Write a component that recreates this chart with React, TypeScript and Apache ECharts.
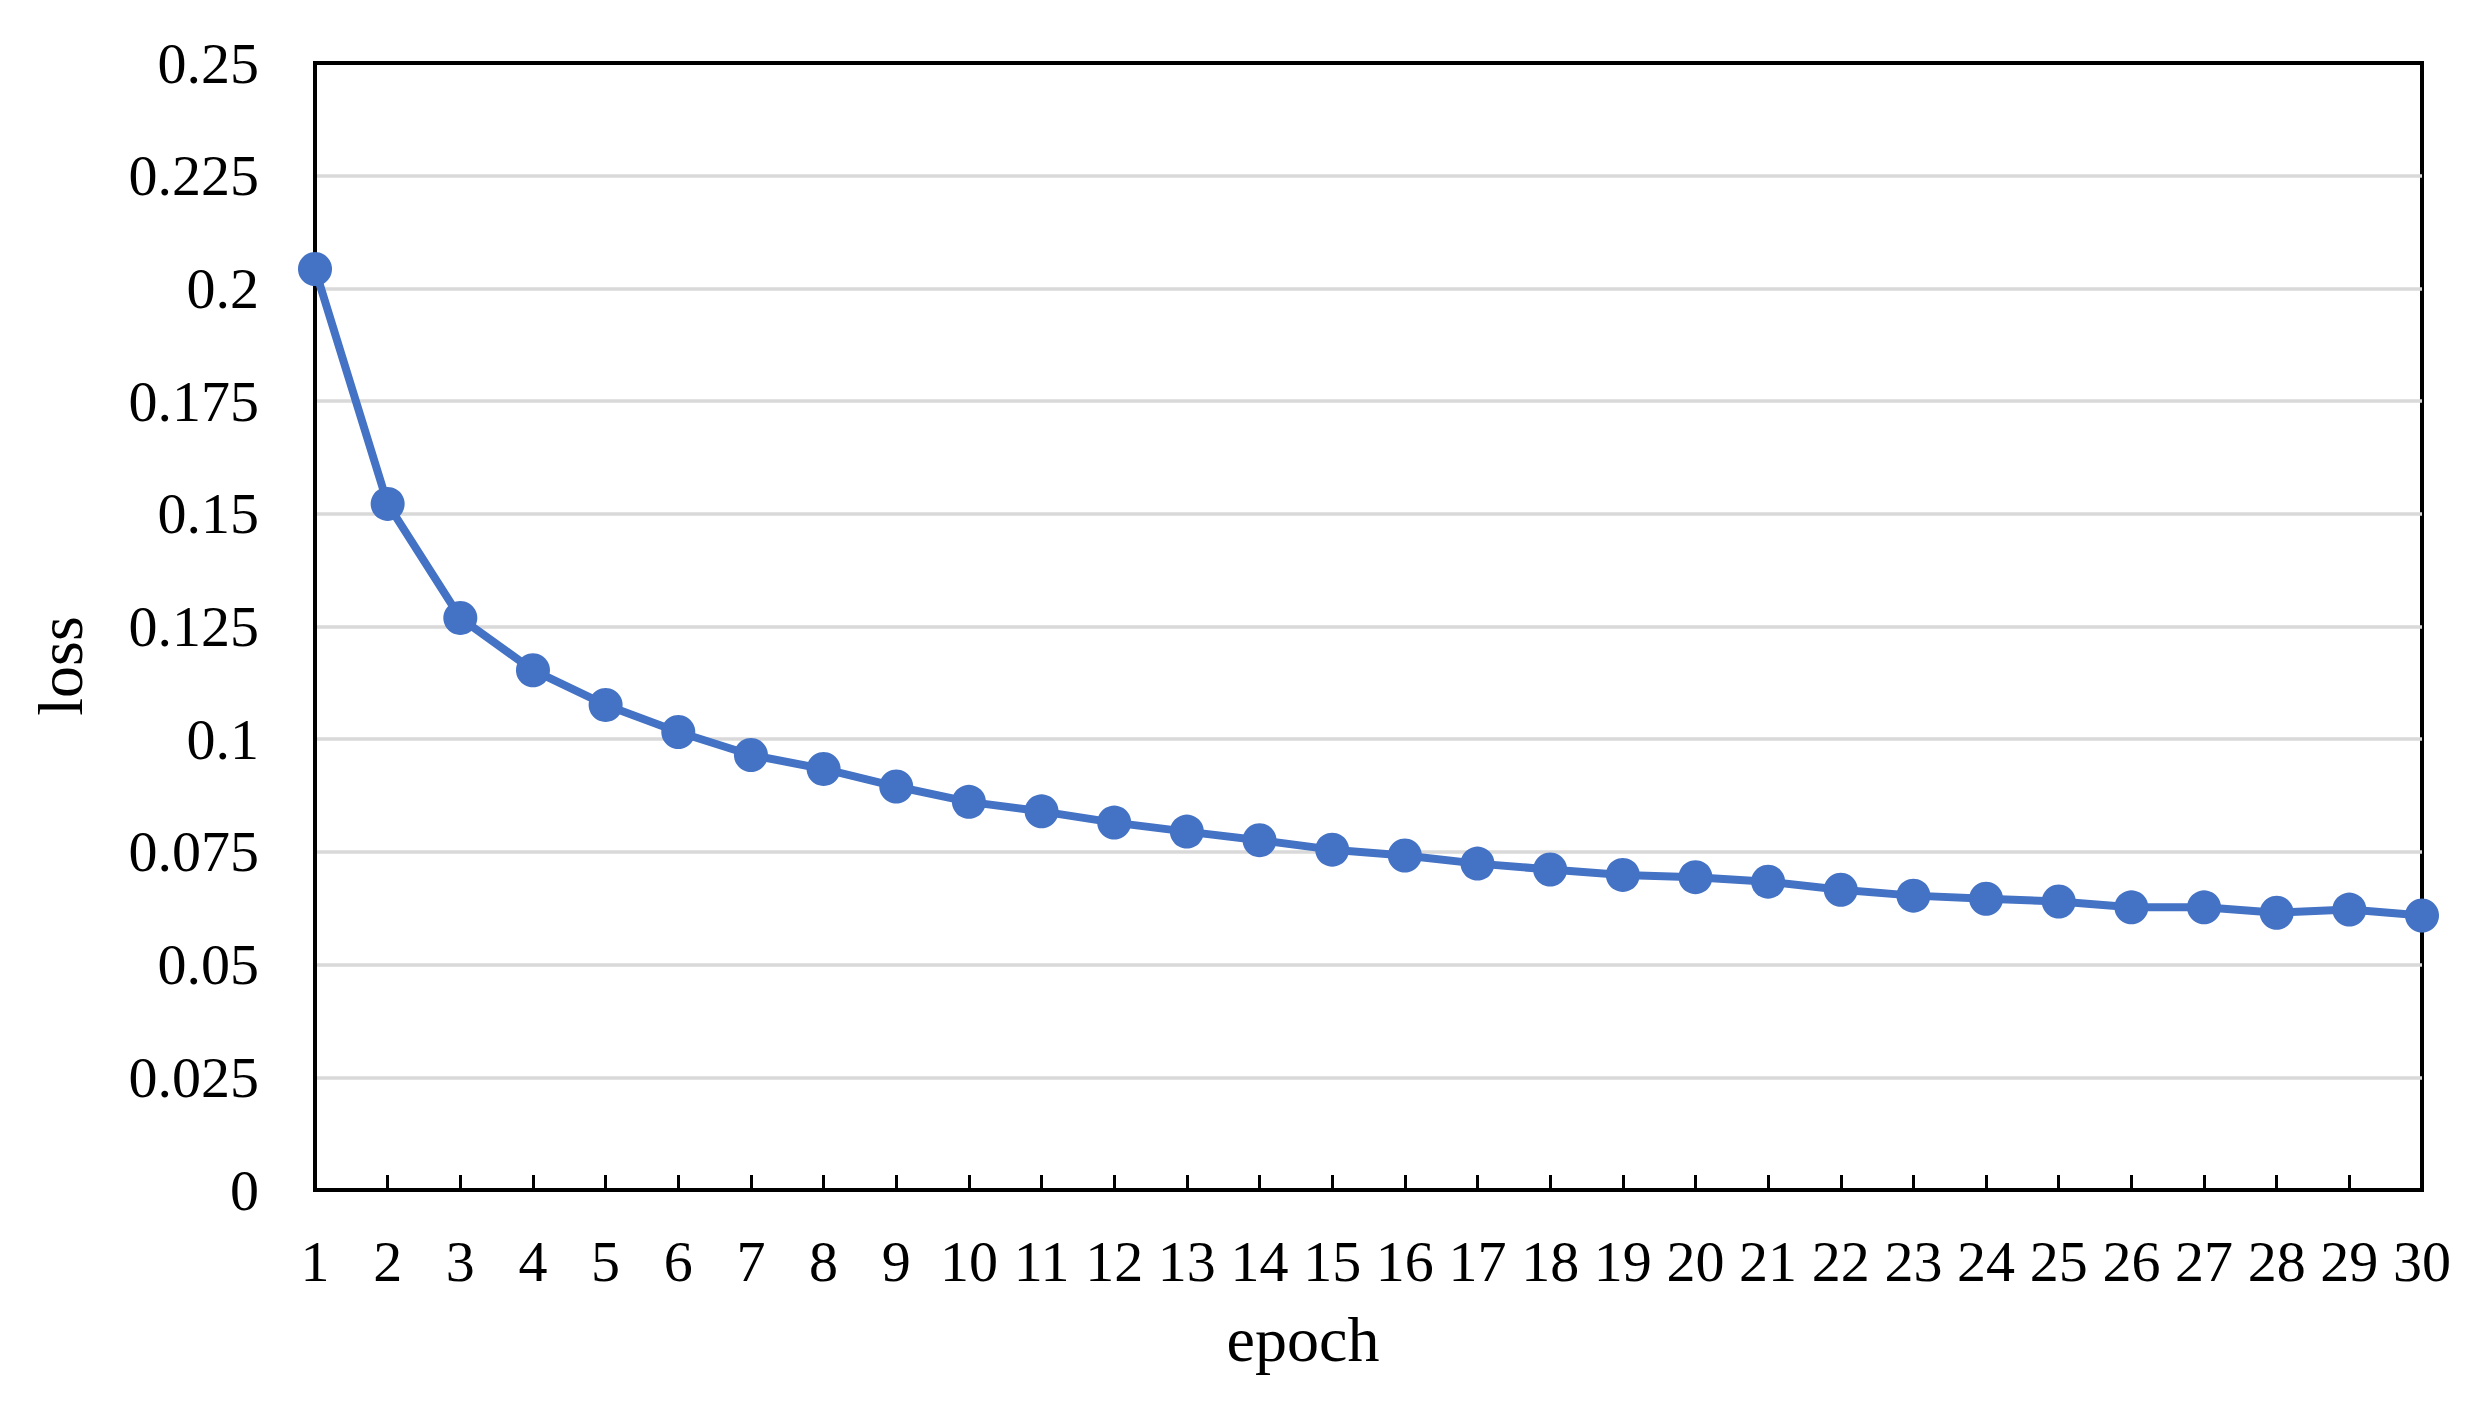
import React, { useEffect, useRef } from "react";
import * as echarts from "echarts";

const epochs: string[] = Array.from({ length: 30 }, (_, i) => String(i + 1));
const lossValues: number[] = [
  0.2043, 0.1522, 0.1269, 0.1153, 0.1076, 0.1016, 0.0965, 0.0934, 0.0895, 0.0861,
  0.084, 0.0815, 0.0795, 0.0776, 0.0755, 0.0742, 0.0724, 0.0711, 0.0699, 0.0694,
  0.0684, 0.0666, 0.0653, 0.0646, 0.064, 0.0627, 0.0627, 0.0615, 0.0622, 0.0609,
];
const yMin = 0;
const yMax = 0.25;
const yStep = 0.025;
const xTitle = "epoch";
const yTitle = "loss";

export default function App() {
  const ref = useRef<HTMLDivElement>(null);
  useEffect(() => {
    document.body.style.margin = "0";
    if (!ref.current) return;
    const chart = echarts.init(ref.current, null, { renderer: "svg" });
    const font = "'Liberation Serif', 'Times New Roman', serif";
    chart.setOption({
      animation: false,
      backgroundColor: "#ffffff",
      grid: {
        left: 315,
        right: 63,
        top: 63,
        bottom: 212,
        show: true,
        borderColor: "#000000",
        borderWidth: 4,
        backgroundColor: "transparent",
      },
      xAxis: [
        {
          type: "category",
          data: epochs,
          boundaryGap: false,
          axisLine: { show: true, lineStyle: { color: "#000000", width: 4 } },
          axisTick: {
            show: true,
            inside: true,
            length: 15,
            lineStyle: { color: "#000000", width: 3 },
          },
          axisLabel: {
            interval: 0,
            color: "#000000",
            fontFamily: font,
            fontSize: 58,
            margin: 42,
          },
          splitLine: { show: false },
          z: 10,
        },
        {
          type: "category",
          data: epochs,
          position: "top",
          boundaryGap: false,
          axisLine: { show: true, lineStyle: { color: "#000000", width: 4 } },
          axisTick: { show: false },
          axisLabel: { show: false },
          splitLine: { show: false },
          z: 10,
        },
      ],
      yAxis: {
        type: "value",
        min: yMin,
        max: yMax,
        interval: yStep,
        axisLine: { show: true, lineStyle: { color: "#000000", width: 4 } },
        axisTick: { show: false },
        axisLabel: {
          color: "#000000",
          fontFamily: font,
          fontSize: 58,
          margin: 56,
          formatter: (v: number) => String(parseFloat(v.toFixed(3))),
        },
        splitLine: {
          show: true,
          showMinLine: false,
          showMaxLine: false,
          lineStyle: { color: "#d9d9d9", width: 3.5 },
        },
      },
      graphic: [
        {
          type: "text",
          x: 60,
          y: 666,
          rotation: Math.PI / 2,
          style: {
            text: yTitle,
            fontFamily: font,
            fontSize: 64,
            fill: "#000000",
            align: "center",
            verticalAlign: "middle",
          },
        },
        {
          type: "text",
          x: 1303,
          y: 1339,
          style: {
            text: xTitle,
            fontFamily: font,
            fontSize: 64,
            fill: "#000000",
            align: "center",
            verticalAlign: "middle",
          },
        },
      ],
      series: [
        {
          type: "line",
          xAxisIndex: 0,
          data: lossValues,
          symbol: "circle",
          symbolSize: 34,
          lineStyle: { color: "#4472C4", width: 8 },
          itemStyle: { color: "#4472C4" },
          clip: false,
          z: 5,
        },
      ],
    });
    return () => chart.dispose();
  }, []);
  return (
    <div
      ref={ref}
      style={{ position: "fixed", left: 0, top: 0, width: 2485, height: 1402, background: "#fff" }}
    />
  );
}
